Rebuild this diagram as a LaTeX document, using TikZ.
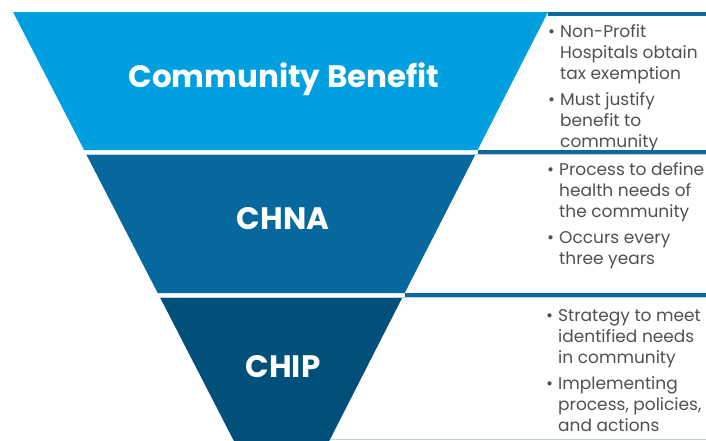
\documentclass[tikz,border=0pt]{standalone}
\usepackage{fontspec}
\setmainfont{Poppins}
\usepackage{xcolor}
\usepackage{tikz}
\usetikzlibrary{positioning,calc}

\definecolor{benefitblue}{HTML}{009FDF}
\definecolor{chnablue}{HTML}{06689D}
\definecolor{chipblue}{HTML}{00507B}
\definecolor{ruleblue}{HTML}{0A6A9F}
\definecolor{rulelight}{HTML}{B7D2E2}
\definecolor{notegray}{HTML}{505050}

\newcommand{\points}[1]{\begin{tabular}[t]{@{}l@{\hspace{5pt}}l@{}}#1\end{tabular}}

\begin{document}
\begin{tikzpicture}[x=1pt,y=-1pt,
    title/.style={text=white, font=\fontsize{31}{35}\selectfont\bfseries, inner sep=0, anchor=base},
    notes/.style={text=notegray, font=\fontsize{17}{21}\selectfont, inner sep=0, anchor=base west}]
  \useasboundingbox (0,0) rectangle (706,440);

  \fill[benefitblue] (13,12) -- (548,12) -- (477.6,150) -- (84.1,150) -- cycle;
  \fill[chnablue] (86.6,155) -- (475.1,155) -- (404.7,293) -- (157.7,293) -- cycle;
  \fill[chipblue] (160.3,298) -- (402.1,298) -- (329.2,441) -- (233.9,441) -- cycle;

  \fill[ruleblue] (548,12) rectangle (706,16);
  \draw[rulelight, line width=.8pt] (86,154.4) -- (706,154.4);
  \fill[ruleblue] (477.6,150) rectangle (706,154);
  \draw[rulelight, line width=.8pt] (159,297.4) -- (706,297.4);
  \fill[ruleblue] (404.7,293) rectangle (706,297);
  \draw[rulelight, line width=.8pt] (330,439.6) -- (706,439.6);

  \node(benefit)[title] at (284,87) {Community Benefit};
  \node(chna)[title] at (283,229) {CHNA};
  \node(chip)[title] at (283,377) {CHIP};

  \node(benefitnotes)[notes] at (548,37)
  {\points{\textbullet & Non-Profit\\ & Hospitals obtain\\ & tax exemption\\[5pt]
           \textbullet & Must justify\\ & benefit to\\ & community}};
  \node(chnanotes)[notes] at (547,175)
  {\points{\textbullet & Process to define\\ & health needs of\\ & the community\\[5pt]
           \textbullet & Occurs every\\ & three years}};
  \node(chipnotes)[notes] at (546,321)
  {\points{\textbullet & Strategy to meet\\ & identified needs\\ & in community\\[5pt]
           \textbullet & Implementing\\ & process, policies,\\ & and actions}};

\end{tikzpicture}
\end{document}
